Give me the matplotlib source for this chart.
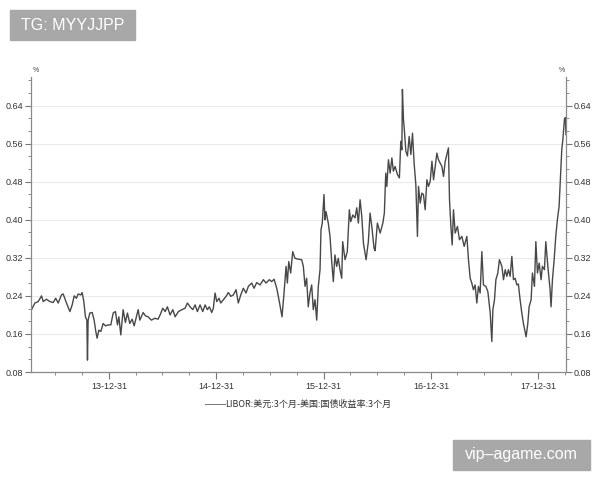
import datetime as dt
import matplotlib
matplotlib.use("Agg")
import matplotlib.pyplot as plt
import matplotlib.dates as mdates
from matplotlib.ticker import MultipleLocator, FixedLocator, FuncFormatter
from matplotlib.patches import Rectangle

years = [
    2013.271, 2013.302, 2013.333, 2013.364, 2013.380, 2013.410, 2013.442, 2013.473, 2013.496, 2013.520,
    2013.550, 2013.566, 2013.597, 2013.629, 2013.650, 2013.669, 2013.690, 2013.706, 2013.731, 2013.743,
    2013.759, 2013.774, 2013.787, 2013.793, 2013.799, 2013.815, 2013.837, 2013.855, 2013.871, 2013.883,
    2013.899, 2013.918, 2013.939, 2013.961, 2013.986, 2014.011, 2014.033, 2014.054, 2014.073, 2014.086,
    2014.104, 2014.126, 2014.147, 2014.166, 2014.188, 2014.210, 2014.229, 2014.250, 2014.266, 2014.282,
    2014.313, 2014.334, 2014.359, 2014.390, 2014.422, 2014.452, 2014.471, 2014.496, 2014.518, 2014.539,
    2014.564, 2014.590, 2014.611, 2014.642, 2014.674, 2014.704, 2014.726, 2014.751, 2014.776, 2014.798,
    2014.819, 2014.844, 2014.869, 2014.891, 2014.912, 2014.931, 2014.953, 2014.968, 2014.984, 2015.000,
    2015.021, 2015.037, 2015.062, 2015.087, 2015.108, 2015.131, 2015.155, 2015.180, 2015.201, 2015.224,
    2015.248, 2015.273, 2015.295, 2015.326, 2015.348, 2015.373, 2015.404, 2015.435, 2015.460, 2015.491,
    2015.513, 2015.535, 2015.560, 2015.584, 2015.609, 2015.628, 2015.647, 2015.659, 2015.672, 2015.690,
    2015.709, 2015.730, 2015.761, 2015.793, 2015.808, 2015.824, 2015.839, 2015.854, 2015.870, 2015.886,
    2015.901, 2015.917, 2015.933, 2015.948, 2015.964, 2015.973, 2015.985, 2016.001, 2016.010, 2016.020,
    2016.041, 2016.057, 2016.073, 2016.088, 2016.103, 2016.119, 2016.134, 2016.150, 2016.166, 2016.175,
    2016.197, 2016.218, 2016.237, 2016.250, 2016.269, 2016.290, 2016.306, 2016.321, 2016.337, 2016.353,
    2016.368, 2016.393, 2016.414, 2016.430, 2016.446, 2016.467, 2016.477, 2016.498, 2016.524, 2016.549,
    2016.563, 2016.576, 2016.586, 2016.601, 2016.617, 2016.633, 2016.647, 2016.663, 2016.685, 2016.703,
    2016.716, 2016.726, 2016.731, 2016.741, 2016.750, 2016.763, 2016.778, 2016.794, 2016.810, 2016.825,
    2016.841, 2016.856, 2016.871, 2016.881, 2016.897, 2016.912, 2016.927, 2016.943, 2016.959, 2016.974,
    2016.990, 2017.006, 2017.021, 2017.036, 2017.052, 2017.067, 2017.083, 2017.099, 2017.114, 2017.130,
    2017.145, 2017.160, 2017.170, 2017.183, 2017.195, 2017.207, 2017.223, 2017.244, 2017.263, 2017.285,
    2017.307, 2017.332, 2017.347, 2017.363, 2017.378, 2017.393, 2017.409, 2017.425, 2017.440, 2017.456,
    2017.472, 2017.487, 2017.509, 2017.528, 2017.550, 2017.565, 2017.575, 2017.590, 2017.603, 2017.621,
    2017.636, 2017.659, 2017.674, 2017.690, 2017.705, 2017.720, 2017.736, 2017.752, 2017.767, 2017.783,
    2017.799, 2017.813, 2017.829, 2017.845, 2017.860, 2017.875, 2017.885, 2017.901, 2017.913, 2017.932,
    2017.944, 2017.963, 2017.976, 2017.991, 2018.007, 2018.025, 2018.037, 2018.056, 2018.069, 2018.088,
    2018.109, 2018.118, 2018.131, 2018.147, 2018.162, 2018.177, 2018.193, 2018.209, 2018.218, 2018.228,
    2018.233, 2018.243, 2018.252, 2018.257,
]

# LIBOR USD 3M minus US Treasury 3M yield, %
spread = [
    0.211, 0.225, 0.228, 0.240, 0.228, 0.233, 0.228, 0.226, 0.235, 0.225,
    0.242, 0.244, 0.225, 0.207, 0.221, 0.240, 0.235, 0.244, 0.242, 0.247,
    0.228, 0.196, 0.189, 0.105, 0.189, 0.204, 0.205, 0.189, 0.165, 0.151,
    0.168, 0.165, 0.182, 0.177, 0.179, 0.179, 0.204, 0.207, 0.179, 0.196,
    0.158, 0.211, 0.184, 0.204, 0.182, 0.191, 0.177, 0.196, 0.211, 0.189,
    0.205, 0.198, 0.196, 0.189, 0.193, 0.191, 0.200, 0.214, 0.207, 0.217,
    0.200, 0.211, 0.196, 0.207, 0.211, 0.214, 0.225, 0.217, 0.211, 0.221,
    0.207, 0.221, 0.207, 0.221, 0.211, 0.217, 0.205, 0.214, 0.246, 0.228,
    0.235, 0.225, 0.232, 0.239, 0.247, 0.239, 0.242, 0.253, 0.225, 0.242,
    0.256, 0.246, 0.260, 0.267, 0.256, 0.268, 0.263, 0.274, 0.267, 0.274,
    0.270, 0.275, 0.256, 0.228, 0.196, 0.246, 0.302, 0.267, 0.312, 0.288,
    0.333, 0.319, 0.317, 0.316, 0.302, 0.260, 0.277, 0.217, 0.246, 0.263,
    0.211, 0.232, 0.189, 0.260, 0.295, 0.379, 0.393, 0.453, 0.400, 0.417,
    0.393, 0.365, 0.312, 0.270, 0.326, 0.302, 0.319, 0.295, 0.277, 0.354,
    0.316, 0.333, 0.421, 0.396, 0.410, 0.404, 0.425, 0.393, 0.442, 0.407,
    0.351, 0.316, 0.354, 0.414, 0.386, 0.340, 0.335, 0.393, 0.372, 0.393,
    0.414, 0.498, 0.470, 0.526, 0.498, 0.530, 0.502, 0.512, 0.495, 0.488,
    0.565, 0.547, 0.674, 0.611, 0.586, 0.544, 0.534, 0.575, 0.537, 0.582,
    0.516, 0.474, 0.365, 0.470, 0.435, 0.456, 0.453, 0.421, 0.484, 0.470,
    0.481, 0.523, 0.484, 0.512, 0.540, 0.526, 0.519, 0.512, 0.491, 0.523,
    0.537, 0.551, 0.442, 0.386, 0.347, 0.421, 0.372, 0.386, 0.358, 0.365,
    0.344, 0.365, 0.316, 0.277, 0.267, 0.253, 0.263, 0.225, 0.260, 0.246,
    0.333, 0.263, 0.260, 0.249, 0.204, 0.144, 0.211, 0.232, 0.274, 0.288,
    0.316, 0.302, 0.274, 0.295, 0.281, 0.295, 0.281, 0.323, 0.274, 0.277,
    0.263, 0.265, 0.232, 0.204, 0.182, 0.165, 0.154, 0.182, 0.217, 0.232,
    0.288, 0.260, 0.354, 0.288, 0.309, 0.274, 0.302, 0.295, 0.354, 0.302,
    0.253, 0.217, 0.274, 0.316, 0.365, 0.400, 0.428, 0.505, 0.547, 0.568,
    0.582, 0.611, 0.615, 0.579,
]

major_dates = ["2013-12-31", "2014-12-31", "2015-12-31", "2016-12-31", "2017-12-31"]
y_ticks = [0.08, 0.16, 0.24, 0.32, 0.40, 0.48, 0.56, 0.64]
legend_label = "LIBOR:美元:3个月-美国:国债收益率:3个月"


def dec_to_date(y):
    yr = int(y)
    start = dt.datetime(yr, 1, 1)
    days = (dt.datetime(yr + 1, 1, 1) - start).days
    return start + dt.timedelta(days=(y - yr) * days)


dates = [dec_to_date(y) for y in years]

plt.rcParams["font.family"] = ["Liberation Sans", "DejaVu Sans"]

fig = plt.figure(figsize=(6, 4.8), dpi=100)
ax = fig.add_axes([31 / 600, 1 - 372 / 480, (566 - 31) / 600, (372 - 77) / 480])

line, = ax.plot(dates, spread, color="#484848", lw=1.0, label=legend_label)

ax.set_ylim(0.08, 0.70)
ax.set_xlim(dt.datetime(2013, 4, 8), dt.datetime(2018, 4, 5))

ax.yaxis.set_major_locator(FixedLocator(y_ticks))
ax.yaxis.set_minor_locator(MultipleLocator(0.08 / 3))
ax.yaxis.set_major_formatter(FuncFormatter(lambda v, p: f"{v:.2f}"))

maj = [mdates.date2num(dt.datetime.strptime(d, "%Y-%m-%d")) for d in major_dates]
ax.xaxis.set_major_locator(FixedLocator(maj))
ax.xaxis.set_major_formatter(mdates.DateFormatter("%y-%m-%d"))
minor = []
for yr in range(2013, 2019):
    for m, d in ((3, 31), (6, 30), (9, 30)):
        minor.append(mdates.date2num(dt.datetime(yr, m, d)))
ax.xaxis.set_minor_locator(FixedLocator(minor))

ax.grid(axis="y", which="major", color="#ebebeb", lw=0.8)
ax.set_axisbelow(True)

for s in ("left", "right", "bottom"):
    ax.spines[s].set_color("#8a8a8a")
    ax.spines[s].set_linewidth(0.9)
ax.spines["top"].set_visible(False)

ax.tick_params(axis="y", which="both", left=True, right=True, labelleft=True,
               labelright=True, direction="out", colors="#777777",
               labelcolor="#333333", labelsize=6.5, pad=1.5)
ax.tick_params(axis="y", which="major", length=4)
ax.tick_params(axis="y", which="minor", length=2.5)
ax.tick_params(axis="x", which="major", direction="out", length=5, colors="#777777",
               labelcolor="#333333", labelsize=6.5, pad=2)
ax.tick_params(axis="x", which="minor", direction="out", length=2.5, colors="#777777")

ax.annotate("%", xy=(0, 1), xycoords="axes fraction", xytext=(1, 2),
            textcoords="offset points", fontsize=5, color="#444444", ha="left", va="bottom")
ax.annotate("%", xy=(1, 1), xycoords="axes fraction", xytext=(-1, 2),
            textcoords="offset points", fontsize=5, color="#444444", ha="right", va="bottom")

leg = fig.legend(handles=[line], loc="center", bbox_to_anchor=(0.497, 0.158),
                 frameon=False, handlelength=2.2, handletextpad=0.1,
                 prop={"family": ["Noto Sans CJK SC", "DejaVu Sans"], "size": 6.5})
for t in leg.get_texts():
    t.set_color("#333333")
for h in leg.get_lines():
    h.set_linewidth(0.7)
    h.set_color("#777777")

# watermark boxes
fig.patches.append(Rectangle((10 / 600, 1 - 40 / 480), 125 / 600, 30 / 480,
                             transform=fig.transFigure, color="#a8a8a8", zorder=5))
fig.text(72.5 / 600, 1 - 25 / 480, "TG: MYYJJPP", color="white", fontsize=11.5,
         ha="center", va="center", zorder=6, family=["Liberation Sans"])
fig.patches.append(Rectangle((453 / 600, 1 - 470 / 480), 137 / 600, 30 / 480,
                             transform=fig.transFigure, color="#a8a8a8", zorder=5))
fig.text(521.5 / 600, 1 - 455 / 480, "vip\u2013agame.com", color="white", fontsize=11.5,
         ha="center", va="center", zorder=6, family=["Liberation Sans"])

fig.savefig("out.png", dpi=100, facecolor="white")
